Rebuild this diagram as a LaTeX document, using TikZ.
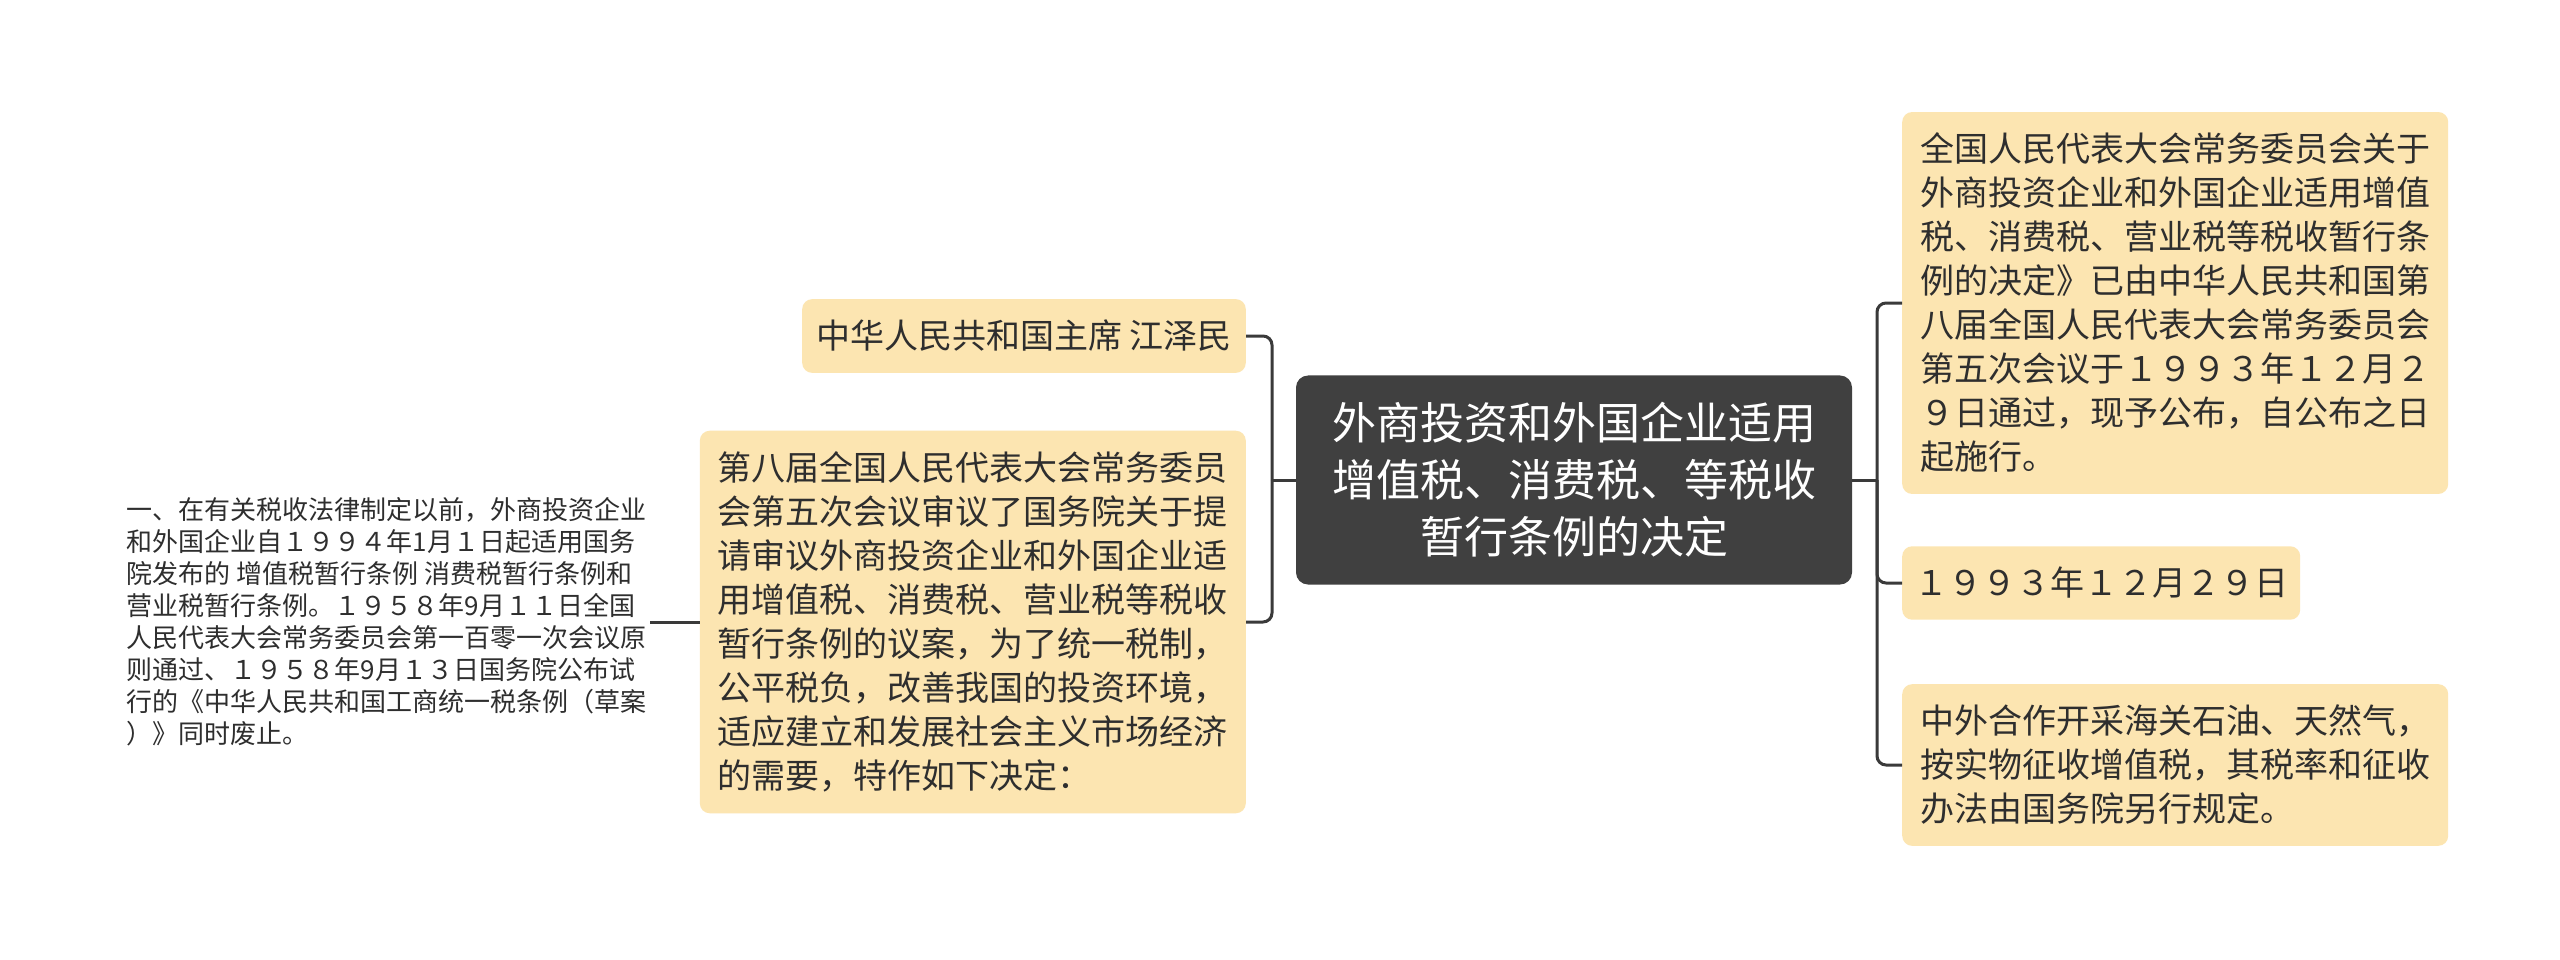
\documentclass[tikz,border=0pt]{standalone}
\usepackage{fontspec}
\setmainfont{Noto Sans CJK SC}
\usetikzlibrary{positioning}
\definecolor{leaffill}{HTML}{FCE5B1}
\definecolor{corefill}{HTML}{404040}
\definecolor{inkgray}{HTML}{2E2E2E}
\definecolor{linkgray}{HTML}{3A3A3A}
\tikzset{
  leaf/.style={fill=leaffill, rounded corners=10pt, text=inkgray, align=left,
    inner xsep=18pt, inner ysep=21pt, font=\fontsize{34}{44}\selectfont},
  core/.style={fill=corefill, rounded corners=12pt, text=white, align=center,
    inner xsep=36pt, inner ysep=27pt, font=\fontsize{44}{57}\selectfont},
  note/.style={text=inkgray, align=left, inner sep=3pt,
    font=\fontsize{26}{32}\selectfont},
  link/.style={draw=linkgray, line width=3pt, rounded corners=9pt},
}

\begin{document}
\begin{tikzpicture}[x=1pt, y=-1pt]
			%%%%% START %%%%%
			
			\fill[white] (0, 0) rectangle (2560, 960);
			\useasboundingbox (0, 0) rectangle (2560, 960);
			
			\node[core] (core) at (1574, 480) {外商投资和外国企业适用\\增值税、消费税、等税收\\暂行条例的决定};
			
			\node[leaf, anchor=east, inner xsep=14pt] (l1) at (1246, 336) {中华人民共和国主席 江泽民};
			\node[leaf, anchor=east] (l2) at (1246, 622) {第八届全国人民代表大会常务委员\\会第五次会议审议了国务院关于提\\请审议外商投资企业和外国企业适\\用增值税、消费税、营业税等税收\\暂行条例的议案，为了统一税制，\\公平税负，改善我国的投资环境，\\适应建立和发展社会主义市场经济\\的需要，特作如下决定：};
			
			\node[note, anchor=east] (n1) at (650, 622) {一、在有关税收法律制定以前，外商投资企业\\和外国企业自１９９４年1月１日起适用国务\\院发布的 增值税暂行条例 消费税暂行条例和\\营业税暂行条例。１９５８年9月１１日全国\\人民代表大会常务委员会第一百零一次会议原\\则通过、１９５８年9月１３日国务院公布试\\行的《中华人民共和国工商统一税条例（草案\\）》同时废止。};
			
			\node[leaf, anchor=west] (r1) at (1902, 303) {全国人民代表大会常务委员会关于\\外商投资企业和外国企业适用增值\\税、消费税、营业税等税收暂行条\\例的决定》已由中华人民共和国第\\八届全国人民代表大会常务委员会\\第五次会议于１９９３年１２月２\\９日通过，现予公布，自公布之日\\起施行。};
			\node[leaf, anchor=west, inner xsep=12pt] (r2) at (1902, 583) {１９９３年１２月２９日};
			\node[leaf, anchor=west] (r3) at (1902, 765) {中外合作开采海关石油、天然气，\\按实物征收增值税，其税率和征收\\办法由国务院另行规定。};
			
			\coordinate (ltrunk) at (1272, 480);
			\coordinate (rtrunk) at (1877, 480);
			
			\draw[link] (core.west) -- (ltrunk);
			\draw[link] (ltrunk) |- (l1.east);
			\draw[link] (ltrunk) |- (l2.east);
			
			\draw[link] (core.east) -- (rtrunk);
			\draw[link] (rtrunk) |- (r1.west);
			\draw[link] (rtrunk) |- (r2.west);
			\draw[link] (rtrunk) |- (r3.west);
			
			\draw[link] (n1.east) -- (l2.west);
			
			%%%%% END %%%%%
\end{tikzpicture}
\end{document}
